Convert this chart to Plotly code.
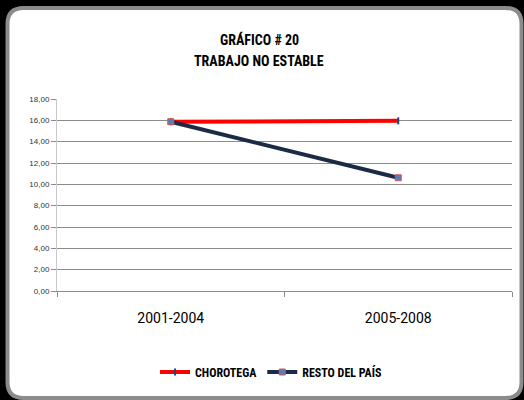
import plotly.graph_objects as go

categories = ["2001-2004", "2005-2008"]
chorotega = [15.87, 15.95]
resto = [15.87, 10.62]
series_names = ["CHOROTEGA", "RESTO DEL PAÍS"]
title_lines = ["GRÁFICO # 20", "TRABAJO NO ESTABLE"]

W, H = 524, 400
L, R, T, B = 57, 12, 99, 109
PW, PH = W - L - R, H - T - B
NARROW = "Roboto Condensed, Liberation Sans Narrow, Roboto, sans-serif"


def fx(px):
    return (px - L) / PW


def fy(py):
    return (H - B - py) / PH


def rounded_rect(x0, y0, x1, y1, r):
    pts = [
        ("M", [(x0 + r, y0)]),
        ("L", [(x1 - r, y0)]),
        ("Q", [(x1, y0), (x1, y0 + r)]),
        ("L", [(x1, y1 - r)]),
        ("Q", [(x1, y1), (x1 - r, y1)]),
        ("L", [(x0 + r, y1)]),
        ("Q", [(x0, y1), (x0, y1 - r)]),
        ("L", [(x0, y0 + r)]),
        ("Q", [(x0, y0), (x0 + r, y0)]),
    ]
    s = ""
    for cmd, ps in pts:
        s += cmd + " " + " ".join(f"{fx(a):.5f},{fy(b):.5f}" for a, b in ps) + " "
    return s + "Z"


fig = go.Figure()
fig.add_trace(go.Scatter(
    x=categories, y=chorotega, name=f"<b>{series_names[0]}</b>", mode="lines+markers",
    line=dict(color="#FF0000", width=4),
    marker=dict(symbol="line-ns", size=5, color="#1F497D",
                line=dict(color="#1F497D", width=2)),
))
fig.add_trace(go.Scatter(
    x=categories, y=resto, name=f"<b>{series_names[1]}</b>", mode="lines+markers",
    line=dict(color="#1C2B45", width=4),
    marker=dict(symbol="square", size=6, color="#4F81BD",
                line=dict(color="#E0504D", width=1)),
))

fig.add_shape(type="path", xref="paper", yref="paper", layer="below",
              path=rounded_rect(7.5, 8, 521.5, 398, 16),
              fillcolor="white", line=dict(color="#8C8C8C", width=4))

for i, t in enumerate(title_lines):
    fig.add_annotation(text=f"<b>{t}</b>", xref="paper", yref="paper",
                       x=fx(259), y=fy(40 + 21 * i), showarrow=False,
                       xanchor="center", yanchor="middle",
                       font=dict(family=NARROW, size=14, color="#000000"))

fig.update_layout(
    width=W, height=H,
    margin=dict(l=L, r=R, t=T, b=B),
    paper_bgcolor="#000000", plot_bgcolor="rgba(0,0,0,0)",
    separators=",.",
    showlegend=True,
    legend=dict(orientation="h", x=fx(271), y=fy(372), xanchor="center",
                yanchor="middle", bgcolor="rgba(0,0,0,0)",
                font=dict(family=NARROW, size=12, color="#000000"),
                itemwidth=30, tracegroupgap=0),
    xaxis=dict(type="category", range=[-0.5, 1.5], showgrid=False,
               showline=True, linecolor="#8C8C8C", linewidth=1,
               ticks="outside", tickson="boundaries", ticklen=5,
               tickcolor="#8C8C8C", ticklabelstandoff=14,
               tickfont=dict(family="Roboto, sans-serif", size=14, color="#000000"),
               zeroline=False, fixedrange=True),
    yaxis=dict(range=[0, 18], dtick=2, tickformat=".2f",
               showgrid=True, gridcolor="#8C8C8C", gridwidth=1,
               showline=True, linecolor="#C8C8C8", linewidth=1,
               ticks="outside", ticklen=5, tickcolor="#8C8C8C",
               tickfont=dict(family="Liberation Sans, Arial, sans-serif",
                             size=8, color="#333333"),
               zeroline=False, fixedrange=True),
)

fig.write_html(
    "out.html",
    config={"displayModeBar": False},
    post_script="document.body.style.margin='0';document.body.style.background='#000';",
)
